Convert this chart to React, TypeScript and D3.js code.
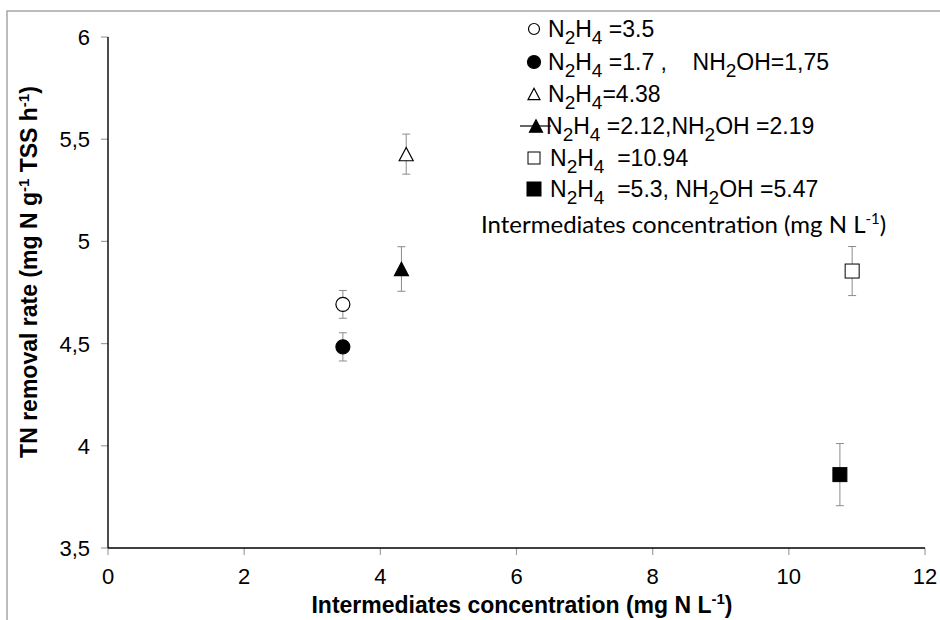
import React from "react";
import * as d3 from "d3";

const xValues = [3.45, 3.45, 4.38, 4.31, 10.93, 10.75];
const yValues = [4.692, 4.484, 5.427, 4.865, 4.855, 3.859];
const yErrors = [0.068, 0.069, 0.098, 0.109, 0.12, 0.152];
const markerTypes = ["circleOpen", "circleFilled", "triOpen", "triFilled", "sqOpen", "sqFilled"];
const xTicks = [0, 2, 4, 6, 8, 10, 12];
const yTicks = [3.5, 4, 4.5, 5, 5.5, 6];
const legendLabels = [
  [["N", 0], ["2", 1], ["H", 0], ["4", 1], [" =3.5", 0]],
  [["N", 0], ["2", 1], ["H", 0], ["4", 1], [" =1.7 ,    NH", 0], ["2", 1], ["OH=1,75", 0]],
  [["N", 0], ["2", 1], ["H", 0], ["4", 1], ["=4.38", 0]],
  [["N", 0], ["2", 1], ["H", 0], ["4", 1], [" =2.12,NH", 0], ["2", 1], ["OH =2.19", 0]],
  [["N", 0], ["2", 1], ["H", 0], ["4", 1], ["  =10.94", 0]],
  [["N", 0], ["2", 1], ["H", 0], ["4", 1], ["  =5.3, NH", 0], ["2", 1], ["OH =5.47", 0]],
];

const W = 940, H = 620;
const x = d3.scaleLinear().domain([0, 12]).range([108, 925]);
const y = d3.scaleLinear().domain([3.5, 6]).range([548, 37]);
const AR = "'Liberation Sans', Arial, sans-serif";

function Marker({ type, cx, cy, s }: { type: string; cx: number; cy: number; s: number }) {
  const filled = type.endsWith("Filled");
  const fill = filled ? "#000" : "#fff";
  if (type.startsWith("circle")) return <circle cx={cx} cy={cy} r={s / 2} fill={fill} stroke="#000" strokeWidth={1.2} />;
  if (type.startsWith("tri")) {
    const h = s * 0.95;
    const pts = `${cx},${cy - h / 2} ${cx + s / 2},${cy + h / 2} ${cx - s / 2},${cy + h / 2}`;
    return <polygon points={pts} fill={fill} stroke="#000" strokeWidth={1.2} strokeLinejoin="miter" />;
  }
  return <rect x={cx - s / 2} y={cy - s / 2} width={s} height={s} fill={fill} stroke="#000" strokeWidth={1} />;
}

export default function App() {
  const legendRowY = [37, 70, 102, 134, 166, 197];
  const legendTextX = [548, 548, 548, 546, 550, 550];
  const legendMarkerSize = [11, 13, 12, 13, 12, 14];
  return (
    <svg width={W} height={H} style={{ position: "absolute", left: 0, top: 0, background: "#fff" }}>
      <rect x={0} y={0} width={W} height={H} fill="#fff" />
      <path d={`M7,${H + 5} V11 H${W + 5}`} fill="none" stroke="#a6a6a6" strokeWidth={1.5} />
      {/* axes */}
      {yTicks.map((t) => (
        <g key={"yt" + t}>
          <line x1={101} x2={108} y1={y(t)} y2={y(t)} stroke="#a0a0a0" strokeWidth={1.2} />
          <text x={90} y={y(t) + 8} textAnchor="end" fontFamily={AR} fontSize={22} fill="#000">
            {String(t).replace(".", ",")}
          </text>
        </g>
      ))}
      {xTicks.map((t) => (
        <g key={"xt" + t}>
          <line x1={x(t)} x2={x(t)} y1={548} y2={555} stroke="#a0a0a0" strokeWidth={1.2} />
          <text x={x(t)} y={584} textAnchor="middle" fontFamily={AR} fontSize={22} fill="#000">
            {t}
          </text>
        </g>
      ))}
      <line x1={108} x2={108} y1={37} y2={548} stroke="#000" strokeWidth={1.4} />
      <line x1={108} x2={925} y1={548} y2={548} stroke="#000" strokeWidth={1.4} />
      <text x={522} y={613} textAnchor="middle" fontFamily={AR} fontWeight="bold" fontSize={23} fill="#000">
        Intermediates concentration (mg N L<tspan dy={-9} fontSize={15}>-1</tspan><tspan dy={9}>)</tspan>
      </text>
      <text transform={`translate(37,272) rotate(-90)`} textAnchor="middle" fontFamily={AR} fontWeight="bold" fontSize={23} fill="#000">
        TN removal rate (mg N g<tspan dy={-8} fontSize={15}>-1</tspan><tspan dy={8}> TSS h</tspan><tspan dy={-8} fontSize={15}>-1</tspan><tspan dy={8}>)</tspan>
      </text>
      {/* error bars */}
      {xValues.map((xv, i) => {
        const cx = x(xv);
        const top = y(yValues[i] + yErrors[i]);
        const bot = y(yValues[i] - yErrors[i]);
        return (
          <g key={"e" + i} stroke="#8c8c8c" strokeWidth={1}>
            <line x1={cx} x2={cx} y1={top} y2={bot} />
            <line x1={cx - 4} x2={cx + 4} y1={top} y2={top} />
            <line x1={cx - 4} x2={cx + 4} y1={bot} y2={bot} />
          </g>
        );
      })}
      {xValues.map((xv, i) => (
        <Marker key={"m" + i} type={markerTypes[i]} cx={x(xv)} cy={y(yValues[i])} s={14} />
      ))}
      {/* legend */}
      {legendLabels.map((parts, i) => (
        <g key={"lg" + i}>
          {i === 3 && <line x1={520} x2={551} y1={legendRowY[i] - 8} y2={legendRowY[i] - 8} stroke="#000" strokeWidth={1.2} />}
          <Marker type={markerTypes[i]} cx={i === 3 ? 536 : 534} cy={legendRowY[i] - 8} s={legendMarkerSize[i]} />
          <text x={legendTextX[i]} y={legendRowY[i]} fontFamily={AR} fontSize={23} fill="#000" style={{ whiteSpace: "pre" }}>
            {(parts as [string, number][]).map(([s, sub], j) => {
              const prev = j > 0 ? (parts[j - 1] as [string, number])[1] : 0;
              const dy = sub && !prev ? 7 : !sub && prev ? -7 : 0;
              return (
                <tspan key={j} dy={dy} fontSize={sub ? 19 : 23}>
                  {s}
                </tspan>
              );
            })}
          </text>
        </g>
      ))}
      <text x={481} y={233} fontFamily="Lato, 'Open Sans', sans-serif" fontSize={24} fill="#000">
        Intermediates concentration (mg N L<tspan dy={-9} fontSize={15}>-1</tspan><tspan dy={9}>)</tspan>
      </text>
    </svg>
  );
}
